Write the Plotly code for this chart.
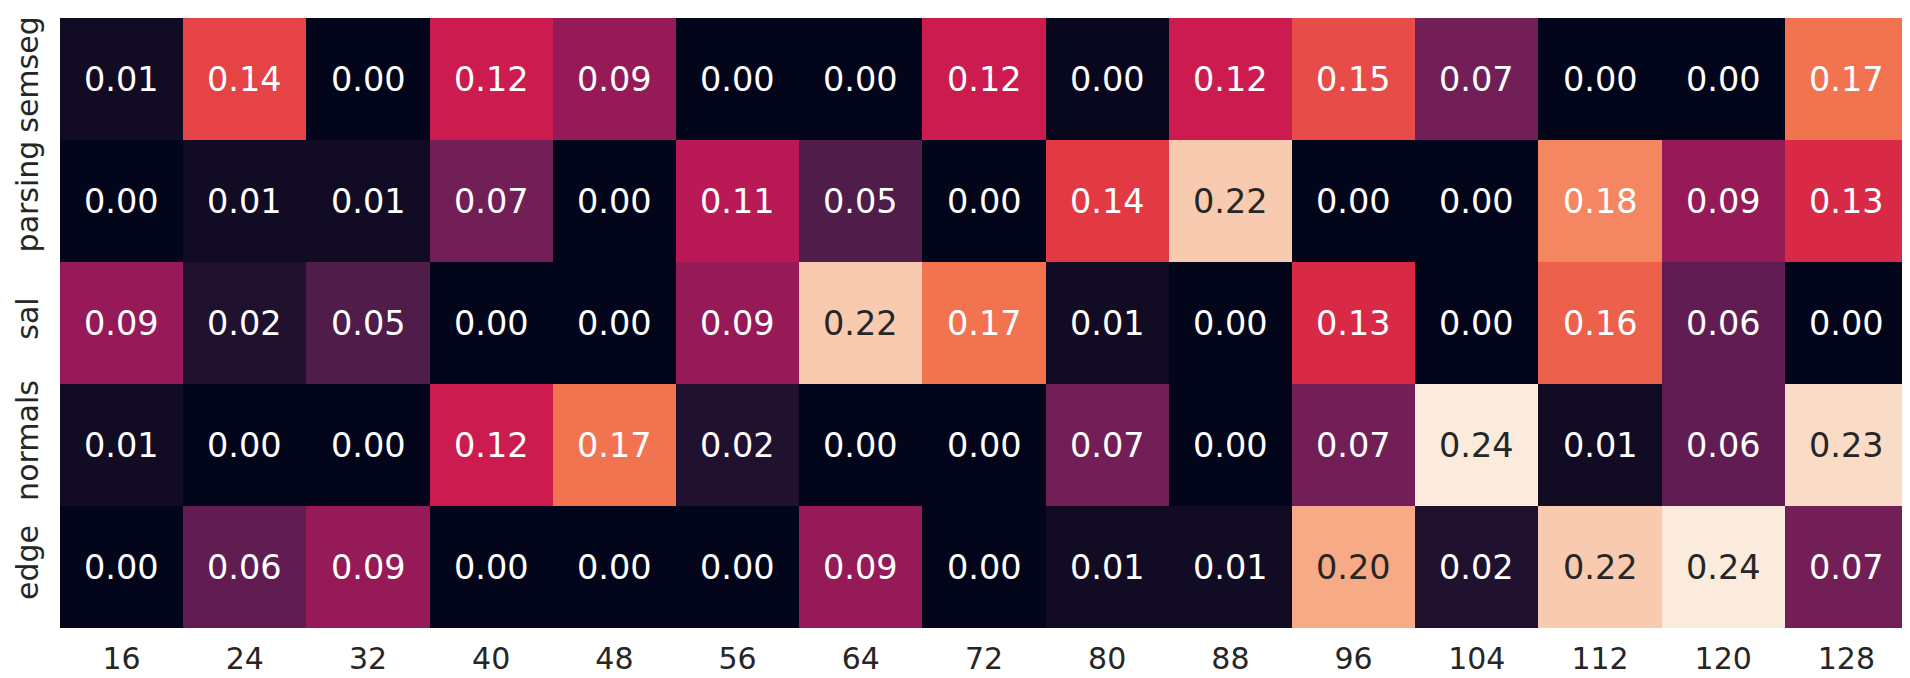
import plotly.graph_objects as go

# bucket sizes on x, tasks on y (top to bottom)
sizes = ["16", "24", "32", "40", "48", "56", "64", "72", "80", "88", "96", "104", "112", "120", "128"]
tasks = ["semseg", "parsing", "sal", "normals", "edge"]

semseg = [0.01, 0.145, 0.00, 0.12, 0.09, 0.00, 0.00, 0.12, 0.004, 0.12, 0.15, 0.07, 0.00, 0.00, 0.17]
parsing = [0.00, 0.01, 0.01, 0.07, 0.00, 0.11, 0.05, 0.00, 0.14, 0.22, 0.00, 0.00, 0.18, 0.09, 0.13]
sal = [0.09, 0.02, 0.05, 0.00, 0.00, 0.09, 0.22, 0.17, 0.01, 0.00, 0.13, 0.00, 0.16, 0.06, 0.00]
normals = [0.01, 0.00, 0.00, 0.12, 0.17, 0.02, 0.00, 0.00, 0.07, 0.00, 0.07, 0.24, 0.01, 0.06, 0.23]
edge = [0.00, 0.06, 0.09, 0.00, 0.00, 0.00, 0.09, 0.00, 0.01, 0.01, 0.20, 0.02, 0.22, 0.24, 0.07]

z = [semseg, parsing, sal, normals, edge]

# seaborn "rocket"
rocket = [
    [0.0, "#03051a"],
    [0.143, "#35193e"],
    [0.286, "#701f57"],
    [0.429, "#ad1759"],
    [0.5, "#cb1b4f"],
    [0.571, "#e13342"],
    [0.714, "#f37651"],
    [0.857, "#f6b48f"],
    [1.0, "#faebdd"],
]

fig = go.Figure(go.Heatmap(
    z=z, x=sizes, y=tasks,
    colorscale=rocket, zmin=0, zmax=0.24,
    showscale=False, xgap=0, ygap=0,
    hovertemplate="%{y} / %{x}: %{z:.2f}<extra></extra>",
))

# cell labels, dark text on the light cells
# (category axes take the index, "16" would be read as position 16)
for i, task in enumerate(tasks):
    for j, s in enumerate(sizes):
        v = z[i][j]
        fig.add_annotation(
            x=j, y=i, text=f"{v:.2f}", showarrow=False,
            font=dict(family="DejaVu Sans", size=33.5,
                      color="#262626" if v >= 0.19 else "white"),
        )

fig.update_layout(
    width=1910, height=678,
    margin=dict(l=52, r=10, t=10, b=52),
    plot_bgcolor="white", paper_bgcolor="white",
    font=dict(family="DejaVu Sans", size=30, color="#262626"),
)
fig.update_xaxes(type="category", showgrid=False, zeroline=False, ticks="outside",
                 ticklen=4, tickcolor="rgba(0,0,0,0)", showline=False, tickangle=0)
fig.update_yaxes(type="category", showgrid=False, zeroline=False, ticks="outside",
                 ticklen=9, tickcolor="rgba(0,0,0,0)", showline=False,
                 autorange="reversed", tickangle=-90, automargin=False)

fig.write_html("out.html")
